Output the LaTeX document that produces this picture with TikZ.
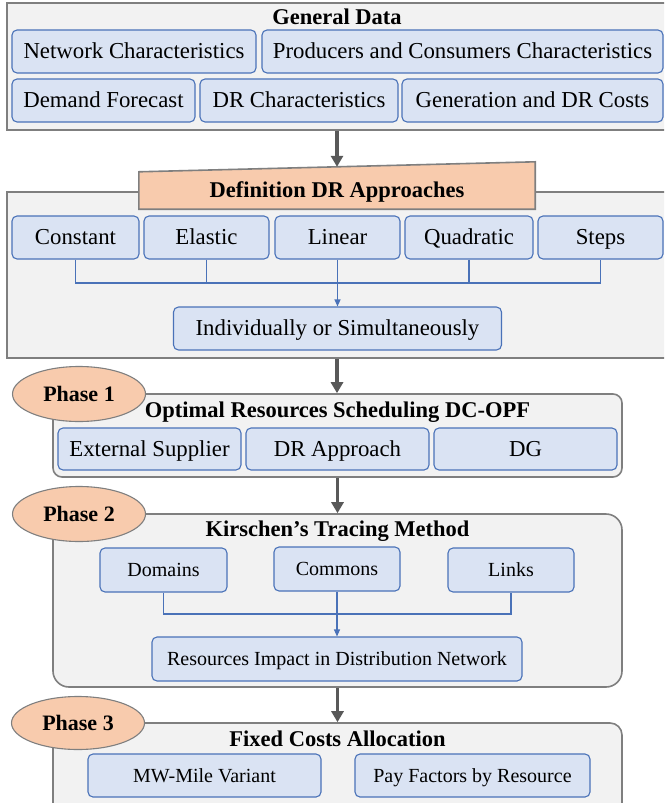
\documentclass[tikz,border=0pt]{standalone}
\usepackage{fontspec}
\setmainfont{Liberation Serif}
\usetikzlibrary{arrows.meta,calc,shapes.geometric}

\definecolor{boxblue}{HTML}{DAE3F3}
\definecolor{lineblue}{HTML}{4A72B8}
\definecolor{panelgrey}{HTML}{F2F2F2}
\definecolor{panelline}{HTML}{7F7F7F}
\definecolor{phaseorange}{HTML}{F8CBAD}
\definecolor{arrowgrey}{HTML}{595959}

\tikzset{
  panel/.style={draw=panelline, line width=1.6pt, fill=panelgrey, inner sep=0pt},
  item/.style={draw=lineblue, line width=1.1pt, fill=boxblue, rounded corners=5pt,
    inner sep=0pt, minimum height=43pt, text height=16pt, text depth=2pt,
    font=\fontsize{22.8}{26}\selectfont},
  smallitem/.style={item, minimum height=44pt, text height=14.5pt, text depth=1.5pt,
    font=\fontsize{20}{24}\selectfont},
  heading/.style={inner sep=0pt, text height=16pt, text depth=2pt,
    font=\fontsize{22.5}{26}\selectfont\bfseries},
  phase/.style={ellipse, draw=panelline, line width=1.1pt, fill=phaseorange, inner sep=0pt,
    minimum width=133pt, minimum height=55pt, font=\fontsize{22}{26}\selectfont\bfseries},
  flow/.style={draw=arrowgrey, line width=3.5pt, -{Triangle[length=11pt,width=12pt]}},
  bus/.style={draw=lineblue, line width=1.1pt},
  busarrow/.style={bus, -{Triangle[length=7pt,width=6pt]}}
}

\begin{document}
\begin{tikzpicture}[x=1pt, y=-1pt]
\clip (0,0) rectangle (664,803);
\fill[white] (0,0) rectangle (664,803);

% ---------- General data ----------
\node[panel, minimum width=660pt, minimum height=127pt] (gdbox) at (337,66.5) {};
\node[heading] (gdtitle) at (337,17) {General Data};
\node[item, minimum width=244pt] (net) at (134,51.5) {Network Characteristics};
\node[item, minimum width=401pt] (prod) at (462.5,51.5) {Producers and Consumers Characteristics};
\node[item, minimum width=183pt] (dem) at (103.5,100.5) {Demand Forecast};
\node[item, minimum width=198pt] (drc) at (299,100.5) {DR Characteristics};
\node[item, minimum width=261pt] (gen) at (532.5,100.5) {Generation and DR Costs};

% ---------- DR approaches ----------
\node[panel, minimum width=660pt, minimum height=166pt] (drbox) at (337,275) {};
\node[heading, minimum width=396pt, minimum height=37pt] (defn) at (337,190.5) {};
\draw[panelline, line width=1.6pt, fill=phaseorange]
  (defn.south west) -- (defn.south east) -- ($(defn.north east)+(0,-10)$) -- (defn.north west) -- cycle;
\node[heading] (defntext) at (defn.center) {Definition DR Approaches};

\node[item, minimum width=127pt] (c1) at (75.5,237.5) {Constant};
\node[item, minimum width=125pt] (c2) at (206.5,237.5) {Elastic};
\node[item, minimum width=125pt] (c3) at (337.5,237.5) {Linear};
\node[item, minimum width=128pt] (c4) at (469,237.5) {Quadratic};
\node[item, minimum width=125pt] (c5) at (600.5,237.5) {Steps};
\node[item, minimum width=328pt] (ind) at (337.5,328.5) {Individually or Simultaneously};

\coordinate (busA) at (337,283);
\draw[bus] (c1.south) -- (c1.south |- busA) -- (c5.south |- busA) -- (c5.south);
\draw[bus] (c2.south) -- (c2.south |- busA);
\draw[bus] (c4.south) -- (c4.south |- busA);
\draw[busarrow] (c3.south) -- (ind.north);

% ---------- Phase 1 ----------
\node[panel, rounded corners=9pt, minimum width=569pt, minimum height=83pt] (p1) at (337.5,435.5) {};
\node[heading] (p1title) at (337.5,410) {Optimal Resources Scheduling DC-OPF};
\node[item, minimum width=183pt, minimum height=42pt] (ext) at (149.5,449) {External Supplier};
\node[item, minimum width=183pt, minimum height=42pt] (dra) at (337.5,449) {DR Approach};
\node[item, minimum width=183pt, minimum height=42pt] (dg) at (525.5,449) {DG};
\node[phase] (ph1) at (79,394) {Phase 1};

% ---------- Phase 2 ----------
\node[panel, rounded corners=16pt, minimum width=569pt, minimum height=173pt] (p2) at (337.5,600.5) {};
\node[heading] (p2title) at (337.5,529) {Kirschen’s Tracing Method};
\node[smallitem, minimum width=127pt] (dom) at (163.5,570) {Domains};
\node[smallitem, minimum width=126pt] (com) at (337,569) {Commons};
\node[smallitem, minimum width=126pt] (lnk) at (511,570) {Links};
\node[smallitem, minimum width=370pt] (res) at (337,659) {Resources Impact in Distribution Network};
\node[phase] (ph2) at (79,514) {Phase 2};

\coordinate (busB) at (337,614);
\draw[bus] (dom.south) -- (dom.south |- busB) -- (lnk.south |- busB) -- (lnk.south);
\draw[busarrow] (com.south) -- (res.north);

% ---------- Phase 3 ----------
\node[panel, rounded corners=12pt, minimum width=569pt, minimum height=100pt] (p3) at (337.5,773) {};
\node[heading] (p3title) at (337.5,739) {Fixed Costs Allocation};
\node[smallitem, minimum width=233pt, minimum height=43pt] (mw) at (204.5,775.5) {MW-Mile Variant};
\node[smallitem, minimum width=235pt, minimum height=43pt] (pay) at (472.5,775.5) {Pay Factors by Resource};
\node[phase, minimum height=53pt] (ph3) at (78,723) {Phase 3};

% ---------- main flow ----------
\draw[flow] (gdbox.south) -- ($(gdbox.south |- defn.north)+(0,-5)$);
\draw[flow] (drbox.south) -- (drbox.south |- p1.north);
\draw[flow] (p1.south) -- (p2.north);
\draw[flow] (p2.south) -- (p3.north);
\end{tikzpicture}
\end{document}
